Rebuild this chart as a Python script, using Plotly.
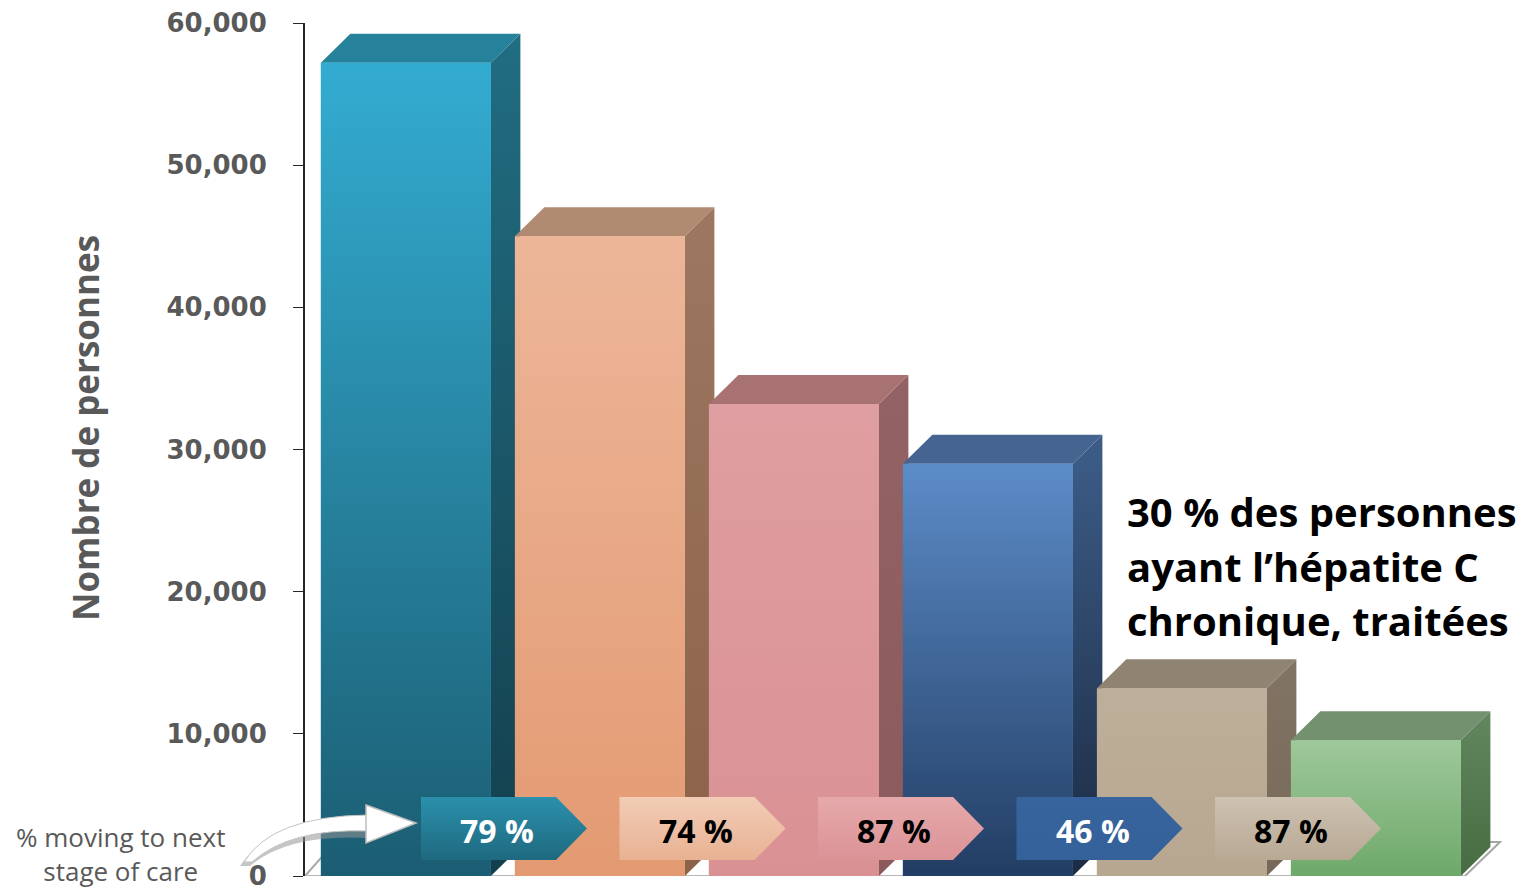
import plotly.graph_objects as go

# ---------------- data ----------------
categories = ["Étape 1", "Étape 2", "Étape 3", "Étape 4", "Étape 5", "Étape 6"]
values = [57200, 45000, 33200, 29000, 13200, 9550]
pct_labels = ["79 %", "74 %", "87 %", "46 %", "87 %"]
pct_text_colors = ["white", "black", "black", "white", "black"]
y_tick_vals = [0, 10000, 20000, 30000, 40000, 50000, 60000]
y_tick_text = ["0", "10,000", "20,000", "30,000", "40,000", "50,000", "60,000"]
note_lines = ["30 % des personnes", "ayant l’hépatite C", "chronique, traitées"]

front_top = ["#33acd1", "#edb699", "#df9ea1", "#5c8cc8", "#beaf9a", "#9fc89b"]
front_bot = ["#1b5d72", "#e39a72", "#da9194", "#223d63", "#b7a791", "#6ea969"]
side_top = ["#216d82", "#9d7761", "#926264", "#3d5d89", "#817464", "#62865e"]
side_bot = ["#133f4d", "#8c6249", "#8a5a5c", "#1b2b43", "#766958", "#476c42"]
top_col = ["#26819b", "#b18a72", "#a87273", "#45648f", "#8f8372", "#74916f"]
chev_top = ["#2b90ac", "#f2ccb6", "#e6a9ab", "#37649c", "#cdc1b1"]
chev_bot = ["#1e697f", "#e8b293", "#db9396", "#35619a", "#b8a994"]

# ---------------- geometry ----------------
ML, MR, MT, MB = 305, 24, 23, 12
W, H = 1526, 888
XMIN, XMAX = -0.52, 5.65
YMAX = 60000
PW = W - ML - MR
PH = H - MT - MB
PXU = PW / (XMAX - XMIN)          # px per x unit
PYU = PH / YMAX                   # px per y unit


def X(px):
    return XMIN + (px - ML) / PXU


def Y(py):
    return (H - MB - py) / PYU


def XP(px):
    return (px - ML) / PW


def YP(py):
    return (H - MB - py) / PH


BAR_W = 170 / PXU
DX = 29.5 / PXU
DY = 29 / PYU

fig = go.Figure()

# base bars (front faces)
xs = list(range(len(values)))
fig.add_trace(go.Bar(x=xs, y=values, width=BAR_W, marker=dict(color=front_top, line=dict(width=0)),
                     hovertext=categories, hoverinfo="text+y", showlegend=False))

# 3D faces drawn from values
for i, v in enumerate(values):
    x0, x1 = i - BAR_W / 2, i + BAR_W / 2
    fig.add_trace(go.Scatter(x=[x1, x1 + DX, x1 + DX, x1, x1], y=[0, DY, v + DY, v, 0],
                             fill="toself", mode="lines", line=dict(width=0),
                             fillgradient=dict(type="vertical",
                                               colorscale=[[0, side_bot[i]], [1, side_top[i]]]),
                             hoverinfo="skip", showlegend=False))
    fig.add_trace(go.Scatter(x=[x0, x1, x1 + DX, x0 + DX, x0], y=[v, v, v + DY, v + DY, v],
                             fill="toself", mode="lines", line=dict(width=0),
                             fillcolor=top_col[i], hoverinfo="skip", showlegend=False))
    fig.add_trace(go.Scatter(x=[x0, x1, x1, x0, x0], y=[0, 0, v, v, 0],
                             fill="toself", mode="lines", line=dict(width=0),
                             fillgradient=dict(type="vertical",
                                               colorscale=[[0, front_bot[i]], [1, front_top[i]]]),
                             hoverinfo="skip", showlegend=False))

# chevrons with percentages
CH_RECT = 135 / PXU
CH_PT = 31 / PXU
CH_Y0, CH_Y1 = Y(860), Y(797)
CH_YM = (CH_Y0 + CH_Y1) / 2
annotations = []
for i, lab in enumerate(pct_labels):
    left = X(421) + i * 198.5 / PXU
    xr = left + CH_RECT
    fig.add_trace(go.Scatter(x=[left, xr, xr + CH_PT, xr, left, left],
                             y=[CH_Y0, CH_Y0, CH_YM, CH_Y1, CH_Y1, CH_Y0],
                             fill="toself", mode="lines", line=dict(width=0),
                             fillgradient=dict(type="vertical",
                                               colorscale=[[0, chev_bot[i]], [1, chev_top[i]]]),
                             hoverinfo="skip", showlegend=False))
    annotations.append(dict(x=left + 76 / PXU, y=Y(830), xref="x", yref="y", text=lab,
                            showarrow=False, xanchor="center", yanchor="middle",
                            font=dict(family="Open Sans", size=32, weight="bold",
                                      color=pct_text_colors[i])))

# floor
floor_right = X(1465)
shapes = [
    dict(type="path", xref="x", yref="y", layer="below",
         path=f"M {X(305)},0 L {floor_right},0 L {floor_right + 35 / PXU},{34 / PYU} "
              f"L {X(335)},{34 / PYU} Z",
         fillcolor="white", line=dict(color="#a6a6a6", width=2)),
    dict(type="line", xref="x", yref="y", x0=X(305), x1=floor_right, y0=Y(877), y1=Y(877),
         line=dict(color="#c8c8c8", width=3), layer="below"),
]


# curved arrow (paper coordinates so it may cross the axis)
def pp(px, py):
    return f"{XP(px)},{YP(py)}"


shadow_path = (f"M {pp(240, 866)} Q {pp(268, 822)} {pp(367, 819)} L {pp(367, 838)} "
               f"Q {pp(288, 834)} {pp(250, 866)} Z")
body_path = (f"M {pp(244, 862)} Q {pp(272, 816)} {pp(368, 815)} L {pp(368, 831)} "
             f"Q {pp(290, 828)} {pp(252, 862)} Z")
shapes.append(dict(type="path", xref="paper", yref="paper", path=shadow_path,
                   fillcolor="rgba(150,150,150,0.55)", line=dict(width=0)))
shapes.append(dict(type="path", xref="paper", yref="paper", path=body_path,
                   fillcolor="white", line=dict(color="#c4c4c4", width=1)))
shapes.append(dict(type="path", xref="paper", yref="paper",
                   path=f"M {pp(366, 805)} L {pp(416, 823)} L {pp(366, 843)} Z",
                   fillcolor="white", line=dict(color="#bdbdbd", width=1.5)))

# texts
for k, (line_txt, cy) in enumerate(zip(note_lines, [511, 566, 621])):
    annotations.append(dict(x=XP(1125), y=YP(cy), xref="paper", yref="paper",
                            xanchor="left", yanchor="middle", align="left", showarrow=False,
                            text=line_txt,
                            font=dict(family="Open Sans", size=40, weight="bold", color="black")))
annotations.append(dict(x=XP(120), y=YP(854), xref="paper", yref="paper",
                        xanchor="center", yanchor="middle", showarrow=False, align="center",
                        text="% moving to next<br>stage of care",
                        font=dict(family="Open Sans", size=26, color="#595959")))
annotations.append(dict(x=XP(86), y=YP(428), xref="paper", yref="paper",
                        xanchor="center", yanchor="middle", showarrow=False, textangle=-90,
                        text="Nombre de personnes",
                        font=dict(family="Open Sans", size=35, weight="bold", color="#595959")))

fig.update_layout(
    width=W, height=H, autosize=False,
    margin=dict(l=ML, r=MR, t=MT, b=MB, pad=0, autoexpand=False),
    paper_bgcolor="white", plot_bgcolor="white",
    showlegend=False, barmode="overlay",
    xaxis=dict(range=[XMIN, XMAX], showgrid=False, zeroline=False, showline=False,
               showticklabels=False, ticks="", automargin=False),
    yaxis=dict(range=[0, YMAX], tickvals=y_tick_vals, ticktext=y_tick_text, automargin=False,
               showgrid=False, zeroline=False, showline=True, linecolor="#262626", linewidth=2,
               ticks="outside", ticklen=10, tickcolor="#262626", tickwidth=1,
               ticklabelstandoff=21, ticklabeloverflow="allow",
               tickfont=dict(family="DejaVu Sans", size=26, weight="bold", color="#595959")),
    shapes=shapes,
    annotations=annotations,
)

fig.write_html("out.html")
